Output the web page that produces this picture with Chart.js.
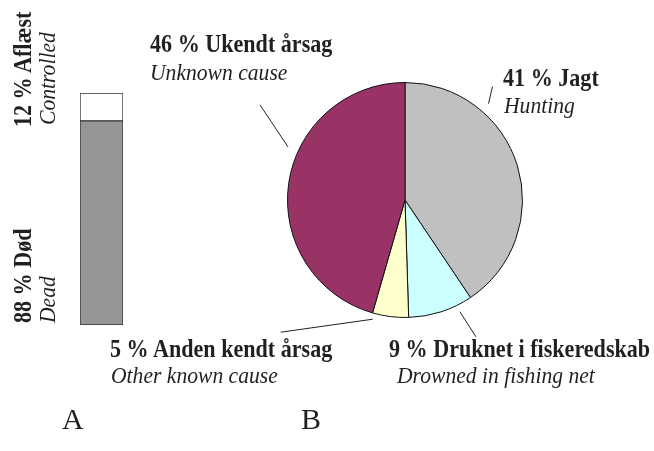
<!DOCTYPE html>
<html>
<head>
<meta charset="utf-8">
<script src="https://cdn.jsdelivr.net/npm/chart.js@4/dist/chart.umd.min.js"></script>
<style>
  body { margin: 0; background: #fff; }
  #wrap { position: relative; width: 654px; height: 451px; overflow: hidden; font-family: "Liberation Serif", "DejaVu Serif", serif; color: #231f20; }
  canvas { position: absolute; }
  .lbl { position: absolute; white-space: nowrap; line-height: 1; transform-origin: 0 0; }
  .b { font-weight: bold; font-size: 26px; }
  .i { font-style: italic; font-size: 24px; }
  .lbl.b { transform: scaleX(0.85); }
  .lbl.i { transform: scaleX(0.9); }
  .rot { position: absolute; transform-origin: 0 0; white-space: nowrap; line-height: 1; }
  .rot.b { transform: rotate(-90deg) scaleX(0.85); }
  .rot.i { transform: rotate(-90deg) scaleX(0.9); }
  .panel { position: absolute; font-size: 30px; }
</style>
</head>
<body>
<div id="wrap">
  <canvas id="barChart" width="63" height="252" style="left:70px;top:83px"></canvas>
  <canvas id="pieChart" width="654" height="451" style="left:0;top:0"></canvas>

  <div class="rot b" style="left:10px;top:127px">12 % Aflæst</div>
  <div class="rot i" style="left:35px;top:125px">Controlled</div>
  <div class="rot b" style="left:10px;top:323px">88 % Død</div>
  <div class="rot i" style="left:35px;top:323px">Dead</div>

  <div class="lbl b" style="left:150px;top:31px">46 % Ukendt årsag</div>
  <div class="lbl i" style="left:150px;top:60px">Unknown cause</div>
  <div class="lbl b" style="left:503px;top:65px">41 % Jagt</div>
  <div class="lbl i" style="left:504px;top:93px">Hunting</div>
  <div class="lbl b" style="left:110px;top:336px">5 % Anden kendt årsag</div>
  <div class="lbl i" style="left:111px;top:363px">Other known cause</div>
  <div class="lbl b" style="left:389px;top:336px">9 % Druknet i fiskeredskab</div>
  <div class="lbl i" style="left:397px;top:363px">Drowned in fishing net</div>

  <div class="panel" style="left:62px;top:402px">A</div>
  <div class="panel" style="left:301px;top:402px">B</div>
</div>
<script>
// A: fate of ringed birds (percent)
const barCategories = ['A'];
const deadValues = [88];
const controlledValues = [12];

// B: causes of death (percent)
const causeLabels = ['Jagt', 'Druknet i fiskeredskab', 'Anden kendt årsag', 'Ukendt årsag'];
const causeValues = [41, 9, 5, 46];
const causeColors = ['#c0c0c0', '#ccffff', '#ffffcc', '#993366'];

new Chart(document.getElementById('barChart'), {
    type: 'bar',
    data: {
        labels: barCategories,
        datasets: [
            { label: 'Død', data: deadValues, backgroundColor: '#969696', borderColor: '#333', borderWidth: 1, borderSkipped: false },
            { label: 'Aflæst', data: controlledValues, backgroundColor: '#ffffff', borderColor: '#333', borderWidth: 1, borderSkipped: false }
        ]
    },
    options: {
        responsive: false,
        animation: false,
        layout: { padding: 10 },
        datasets: { bar: { barPercentage: 1, categoryPercentage: 1 } },
        plugins: { legend: { display: false }, tooltip: { enabled: false } },
        scales: {
            x: { stacked: true, display: false },
            y: { stacked: true, display: false, min: 0, max: 100 }
        }
    }
});

// leader lines: where on each slice they start, and how far they run
const leaders = [
    { frac: 0.28, gap: 10, dx: 4, dy: -17 },
    { frac: 0.24, gap: 7, dx: 16, dy: 25 },
    { frac: 0.95, gap: 6, dx: -92, dy: 13 },
    { frac: 0.6, gap: 11, dx: -28, dy: -42 }
];

const leaderPlugin = {
    id: 'leaders',
    afterDraw(chart) {
        const ctx = chart.ctx;
        const arcs = chart.getDatasetMeta(0).data;
        ctx.save();
        ctx.strokeStyle = '#231f20';
        ctx.lineWidth = 1;
        arcs.forEach((arc, i) => {
            const l = leaders[i];
            const a = arc.startAngle + (arc.endAngle - arc.startAngle) * l.frac;
            const r = arc.outerRadius + l.gap;
            const x0 = arc.x + Math.cos(a) * r;
            const y0 = arc.y + Math.sin(a) * r;
            ctx.beginPath();
            ctx.moveTo(x0, y0);
            ctx.lineTo(x0 + l.dx, y0 + l.dy);
            ctx.stroke();
        });
        ctx.restore();
    }
};

new Chart(document.getElementById('pieChart'), {
    type: 'pie',
    data: {
        labels: causeLabels,
        datasets: [{
            data: causeValues,
            backgroundColor: causeColors,
            borderColor: '#111',
            borderWidth: 1
        }]
    },
    options: {
        responsive: false,
        animation: false,
        layout: { padding: { left: 287, right: 131, top: 82, bottom: 133 } },
        plugins: { legend: { display: false }, tooltip: { enabled: false } }
    },
    plugins: [leaderPlugin]
});
</script>
</body>
</html>
